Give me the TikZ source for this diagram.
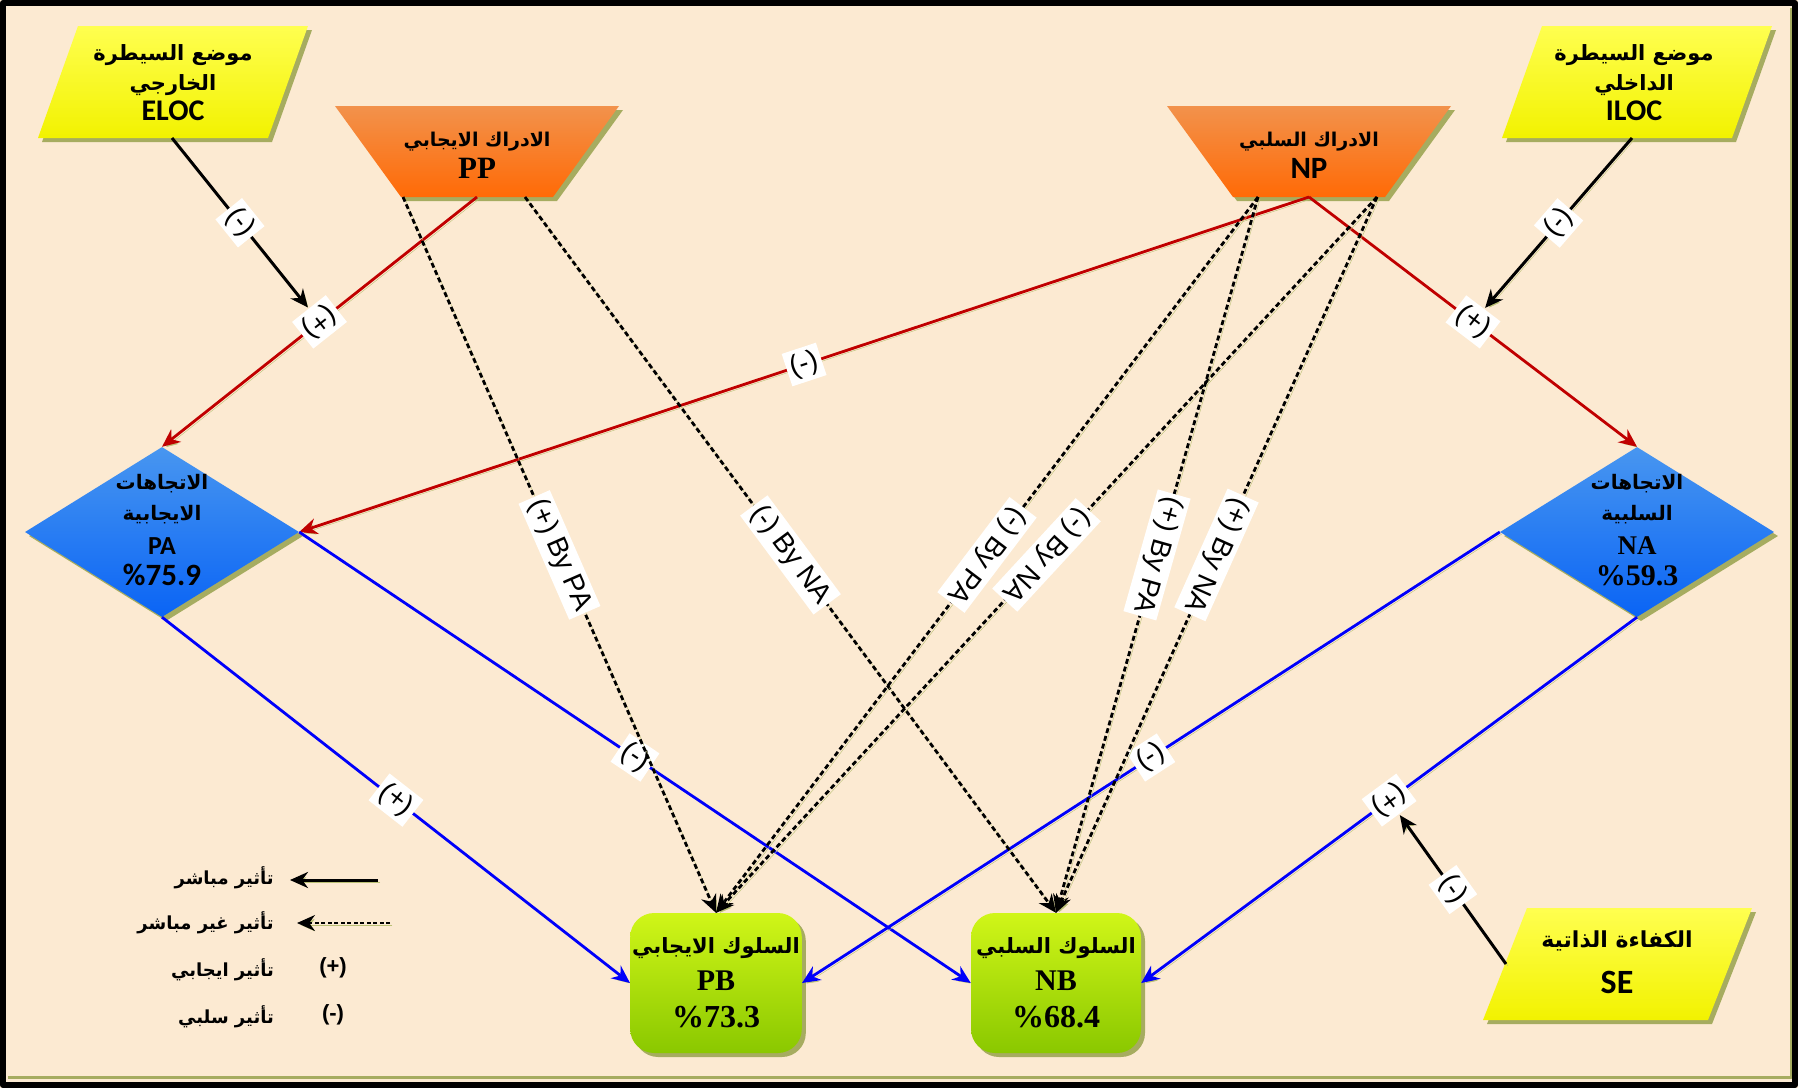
\documentclass[tikz,border=0pt]{standalone}
\usepackage{fontspec}
\setmainfont{Liberation Serif}
\newfontfamily\arb[Script=Arabic]{DejaVu Sans}
\newfontfamily\calfont{Carlito}
\newfontfamily\lsans{Liberation Sans}
\TeXXeTstate=1
\usetikzlibrary{arrows.meta,shapes.geometric,shadows}

\definecolor{bgpeach}{RGB}{252,234,210}
\definecolor{shad}{RGB}{166,172,96}
\definecolor{lshad}{RGB}{186,192,116}
\definecolor{redln}{RGB}{192,0,0}
\definecolor{blueln}{RGB}{0,0,250}
\definecolor{yelT}{RGB}{255,255,80}
\definecolor{yelB}{RGB}{242,242,0}
\definecolor{orT}{RGB}{242,146,76}
\definecolor{orB}{RGB}{255,106,6}
\definecolor{blT}{RGB}{72,150,240}
\definecolor{blB}{RGB}{10,100,245}
\definecolor{grT}{RGB}{208,246,24}
\definecolor{grB}{RGB}{138,200,0}

% Arabic font in bold at a given size (the text itself carries \beginR ... \endR)
\newcommand{\ar}[2]{{\arb\bfseries\fontsize{#1}{#1}\selectfont #2}}
% Latin lines
\newcommand{\cb}[2]{{\calfont\bfseries\fontsize{#1}{#1}\selectfont #2}}
\newcommand{\tb}[2]{{\bfseries\fontsize{#1}{#1}\selectfont #2}}

\begin{document}
\begin{tikzpicture}[x=1pt,y=-1pt,line join=round,
  lab/.style={fill=white,inner sep=4pt,sloped,allow upside down,
    font=\lsans\fontsize{28}{28}\selectfont},
  lnshadow/.style={preaction={draw=lshad,transform canvas={xshift=2pt,yshift=-2pt}}},
  arrowhd/.style={-{Stealth[length=18pt,width=16pt]}},
  redarr/.style={draw=redln,line width=2.8pt,arrowhd,lnshadow},
  bluearr/.style={draw=blueln,line width=2.8pt,arrowhd,lnshadow},
  blkarr/.style={draw=black,line width=3pt,arrowhd,lnshadow},
  dasharr/.style={draw=black,line width=2.8pt,dash pattern=on 5pt off 3pt,arrowhd,lnshadow},
  txt/.style={align=center,inner sep=0pt},
  dshadow/.style={drop shadow={shadow xshift=4pt,shadow yshift=-4pt,fill=shad,opacity=1}},
  diam/.style={diamond,minimum width=274pt,minimum height=170pt,inner sep=0pt,
    top color=blT,bottom color=blB,dshadow},
  gbox/.style={rectangle,rounded corners=24pt,minimum width=170pt,minimum height=140pt,
    top color=grT,bottom color=grB,dshadow,align=center,inner sep=2pt,
    font=\fontsize{20}{37}\selectfont}
]
\useasboundingbox (0,0) rectangle (1798,1088);

% page and frame
\fill[bgpeach] (0,0) rectangle (1798,1088);
\draw[shad,line width=3pt] (8,1077) -- (1791,1077) -- (1791,8);
\draw[black,line width=6pt] (3,3) rectangle (1795,1085);

% ---- yellow inputs ----
\fill[shad,shift={(4,4)}] (78,26) -- (308,26) -- (268,138) -- (38,138) -- cycle;
\shade[top color=yelT,bottom color=yelB] (78,26) -- (308,26) -- (268,138) -- (38,138) -- cycle;
\node[txt,font=\fontsize{18}{30}\selectfont] (ELOC) at (173,83)
  {\ar{21}{\beginR موضع السيطرة\endR}\\ \ar{21}{\beginR الخارجي\endR}\\ \cb{30}{ELOC}};
\coordinate (ELOCs) at (172,138);

\fill[shad,shift={(4,4)}] (1542,26) -- (1772,26) -- (1732,138) -- (1502,138) -- cycle;
\shade[top color=yelT,bottom color=yelB] (1542,26) -- (1772,26) -- (1732,138) -- (1502,138) -- cycle;
\node[txt,font=\fontsize{18}{30}\selectfont] (ILOC) at (1634,83)
  {\ar{21}{\beginR موضع السيطرة\endR}\\ \ar{21}{\beginR الداخلي\endR}\\ \cb{30}{ILOC}};
\coordinate (ILOCs) at (1632,138);

\fill[shad,shift={(4,4)}] (1527,908) -- (1752,908) -- (1708,1020) -- (1483,1020) -- cycle;
\shade[top color=yelT,bottom color=yelB] (1527,908) -- (1752,908) -- (1708,1020) -- (1483,1020) -- cycle;
\node[txt,font=\fontsize{20}{46}\selectfont] (SE) at (1617,962)
  {\ar{22}{\beginR الكفاءة الذاتية\endR}\\ \cb{34}{SE}};
\coordinate (SEw) at (1506,964);

% ---- orange perceptions ----
\fill[shad,shift={(4,4)}] (335,106) -- (619,106) -- (553,197) -- (401,197) -- cycle;
\shade[top color=orT,bottom color=orB] (335,106) -- (619,106) -- (553,197) -- (401,197) -- cycle;
\node[txt,font=\fontsize{18}{32}\selectfont] (PP) at (477,155)
  {\ar{19}{\beginR الادراك الايجابي\endR}\\ \tb{31}{PP}};
\coordinate (PPdl) at (403,197);
\coordinate (PPb) at (477,197);
\coordinate (PPdr) at (525,197);

\fill[shad,shift={(4,4)}] (1167,106) -- (1451,106) -- (1385,197) -- (1233,197) -- cycle;
\shade[top color=orT,bottom color=orB] (1167,106) -- (1451,106) -- (1385,197) -- (1233,197) -- cycle;
\node[txt,font=\fontsize{18}{32}\selectfont] (NP) at (1309,155)
  {\ar{19}{\beginR الادراك السلبي\endR}\\ \cb{31}{NP}};
\coordinate (NPdl) at (1258,197);
\coordinate (NPb) at (1309,197);
\coordinate (NPdr) at (1377,197);

% ---- blue attitudes ----
\node[diam] (PA) at (162,532) {};
\node[txt,font=\fontsize{17}{31}\selectfont] (PAt) at (162,530)
  {\ar{20}{\beginR الاتجاهات\endR}\\ \ar{20}{\beginR الايجابية\endR}\\[3pt] \cb{26}{PA}\\ \cb{31}{\%75.9}};
\node[diam] (NA) at (1637,532) {};
\node[txt,font=\fontsize{17}{31}\selectfont] (NAt) at (1637,530)
  {\ar{20}{\beginR الاتجاهات\endR}\\ \ar{20}{\beginR السلبية\endR}\\[3pt] \tb{27}{NA}\\ \tb{30}{\%59.3}};

% ---- green behaviours ----
\node[gbox] (PB) at (716,983)
  {\ar{21}{\beginR السلوك الايجابي\endR}\\ \tb{30}{PB}\\ \tb{32}{\%73.3}};
\node[gbox] (NB) at (1056,983)
  {\ar{21}{\beginR السلوك السلبي\endR}\\ \tb{30}{NB}\\ \tb{32}{\%68.4}};

% ---- direct paths from perceptions ----
\draw[redarr] (PPb) -- node[lab] (lPPPA) {(+)} (PA.north);
\draw[redarr] (NPb) -- node[lab] (lNPPA) {(-)} (PA.east);
\draw[redarr] (NPb) -- node[lab] (lNPNA) {(+)} (NA.north);

% ---- moderators ----
\draw[blkarr] (ELOCs) -- node[lab] (lELOC) {(-)} (lPPPA);
\draw[blkarr] (ILOCs) -- node[lab] (lILOC) {(-)} (lNPNA);

% ---- attitudes to behaviours ----
\draw[bluearr] (PA.south) -- node[lab] (lPAPB) {(+)} (PB.west);
\draw[bluearr] (PA.east) -- node[lab] (lPANB) {(-)} (NB.west);
\draw[bluearr] (NA.west) -- node[lab] (lNAPB) {(-)} (PB.east);
\draw[bluearr] (NA.south) -- node[lab] (lNANB) {(+)} (NB.east);
\draw[blkarr] (SEw) -- node[lab] (lSE) {(-)} (lNANB);

% ---- indirect paths ----
\draw[dasharr] (PPdl) -- node[lab] (iPPPB) {(+) By PA} (PB.north);
\draw[dasharr] (PPdr) -- node[lab] (iPPNB) {(-) By NA} (NB.north);
\draw[dasharr] (NPdl) -- node[lab] (iNPPB1) {(-) By PA} (PB.north);
\draw[dasharr] (NPdr) -- node[lab] (iNPPB2) {(-) By NA} (PB.north);
\draw[dasharr] (NPdl) -- node[lab] (iNPNB1) {(+) By PA} (NB.north);
\draw[dasharr] (NPdr) -- node[lab] (iNPNB2) {(+) By NA} (NB.north);

% ---- legend ----
\coordinate (lgA1) at (378,880);
\coordinate (lgA2) at (290,880);
\coordinate (lgB1) at (390,923);
\coordinate (lgB2) at (297,923);
\draw[blkarr] (lgA1) -- (lgA2);
\draw[dasharr,line width=2pt,dash pattern=on 4pt off 2.5pt] (lgB1) -- (lgB2);
\node[anchor=east,inner sep=0pt] (lg1) at (274,878) {\ar{18}{\beginR تأثير مباشر\endR}};
\node[anchor=east,inner sep=0pt] (lg2) at (274,923) {\ar{18}{\beginR تأثير غير مباشر\endR}};
\node[anchor=east,inner sep=0pt] (lg3) at (274,970) {\ar{18}{\beginR تأثير ايجابي\endR}};
\node[anchor=east,inner sep=0pt] (lg4) at (274,1017) {\ar{18}{\beginR تأثير سلبي\endR}};
\node[inner sep=0pt] (lg3s) at (333,968) {\lsans\bfseries\fontsize{22}{22}\selectfont (+)};
\node[inner sep=0pt] (lg4s) at (333,1015) {\lsans\bfseries\fontsize{22}{22}\selectfont (-)};
\end{tikzpicture}
\end{document}
